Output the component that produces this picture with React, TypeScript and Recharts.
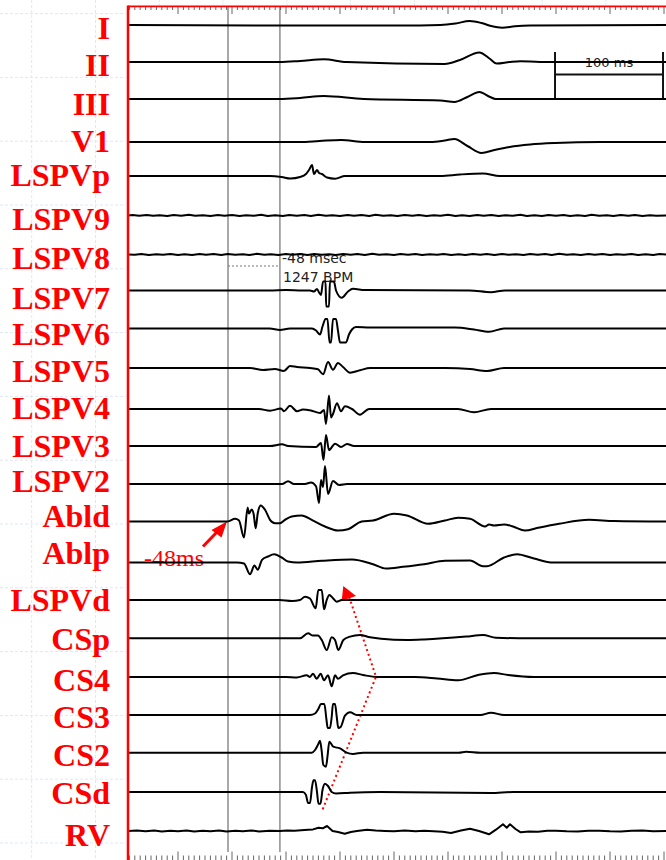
import { LineChart, Line, XAxis, YAxis, ReferenceLine, Customized } from 'recharts';

// channel names, top to bottom
const CHANNELS = [
  'I', 'II', 'III', 'V1', 'LSPVp', 'LSPV9', 'LSPV8', 'LSPV7', 'LSPV6', 'LSPV5', 'LSPV4',
  'LSPV3', 'LSPV2', 'Abld', 'Ablp', 'LSPVd', 'CSp', 'CS4', 'CS3', 'CS2', 'CSd', 'RV',
];
// noisy channels are drawn with straight segments
const NOISY = ['LSPV9', 'LSPV8', 'RV'];

// row layout (y of each trace baseline / label centre)
const BASELINE_Y = [
  25, 62, 99, 142, 176, 215.5, 254.5, 290.5, 328.5, 368, 409, 446, 484, 521.5, 562.5, 600,
  638.3, 677, 715, 752.7, 792, 831,
];
const LABEL_Y = [
  28, 65.5, 104.7, 141.7, 175.5, 219, 258.5, 298, 334.7, 371.7, 408.3, 446, 481, 516, 553,
  600.7, 639.5, 680, 717, 755.5, 793.3, 835,
];

// traces: [time ms, deflection]
const TRACE_I = [[4, 0], [144, -0.5], [255, -0.5], [293, 0], [307, 1.5], [320, 4], [331, 2], [340, -1], [350, -2.7], [362, -1.2], [376, -0.5], [502, 0]];
const TRACE_II = [[4, 0], [144, 0], [163, 1], [185, 2.7], [206, 0], [297, -2], [311, 2], [329, 9.5], [339, 3], [345, -1.5], [357, 0], [367, 0.8], [385, 0], [502, 0]];
const TRACE_III = [[4, 0], [144, 0], [163, 1], [185, 3], [222, 0], [293, -1.5], [306, -3], [318, 2], [329, 7], [339, 2], [344, 0], [502, 0]];
const TRACE_V1 = [[4, 0], [163, 0], [181, 1], [201, 2], [223, 0], [284, 0], [297, 1.5], [306, 3], [318, -4], [331, -11], [343, -8], [357, -5], [376, -2.5], [399, -1], [441, 0], [502, 0]];
const TRACE_LSPVP = [[4, 0], [135, 0], [146, -1], [154, -2.5], [163, -1], [168.5, 2], [171.3, 6], [174.1, 11], [175.9, 2], [178.7, 6], [180.6, 3], [183.3, 2], [188, -1.5], [195.4, -2.7], [204.6, 0], [293, 0], [311, 1.5], [332.4, 2.5], [348, 0], [502, 0]];
const TRACE_LSPV9 = [[4, 0], [8, 0.4], [14, -0.3], [21, 0.6], [27, -0.2], [33, 0.3], [40, -0.5], [46, 0.4], [53, -0.2], [60, 0.7], [66, -0.3], [73, 0.3], [80, -0.5], [87, 0.4], [93, -0.2], [100, 0.6], [107, -0.4], [113, 0.3], [120, -0.3], [127, 0.7], [133, -0.4], [140, 0.2], [147, -0.5], [153, 0.6], [160, -0.2], [167, 0.4], [173, -0.5], [180, 0.7], [187, -0.3], [193, 0.3], [200, -0.4], [207, 0.6], [213, -0.3], [220, 0.4], [227, -0.5], [233, 0.7], [240, -0.2], [247, 0.3], [253, -0.5], [260, 0.5], [267, -0.3], [273, 0.6], [280, -0.4], [287, 0.3], [293, -0.3], [300, 0.7], [307, -0.4], [313, 0.3], [320, -0.5], [327, 0.5], [333, -0.2], [340, 0.6], [347, -0.4], [353, 0.3], [360, -0.3], [367, 0.7], [373, -0.4], [380, 0.3], [387, -0.5], [393, 0.5], [400, -0.2], [407, 0.6], [413, -0.4], [420, 0.3], [427, -0.4], [433, 0.7], [440, -0.3], [447, 0.3], [453, -0.5], [460, 0.5], [467, -0.2], [473, 0.6], [480, -0.4], [487, 0.3], [493, -0.3], [502, 0]];
const TRACE_LSPV8 = [[4, 0], [10, -0.3], [16, 0.5], [23, -0.4], [30, 0.3], [36, -0.2], [43, 0.6], [50, -0.4], [56, 0.3], [63, -0.5], [70, 0.5], [76, -0.2], [83, 0.4], [90, -0.5], [96, 0.6], [103, -0.3], [110, 0.3], [116, -0.4], [123, 0.7], [130, -0.3], [136, 0.2], [143, -0.5], [150, 0.5], [156, -0.3], [163, 0.4], [170, -0.4], [176, 0.6], [183, -0.2], [190, 0.3], [196, -0.5], [203, 0.5], [210, -0.3], [216, 0.4], [223, -0.4], [230, 0.7], [236, -0.3], [243, 0.3], [250, -0.5], [256, 0.4], [263, -0.2], [270, 0.6], [276, -0.4], [283, 0.3], [290, -0.3], [296, 0.6], [303, -0.4], [310, 0.3], [316, -0.5], [323, 0.5], [330, -0.2], [336, 0.4], [343, -0.4], [350, 0.6], [356, -0.3], [363, 0.3], [370, -0.5], [376, 0.5], [383, -0.2], [390, 0.4], [396, -0.4], [403, 0.7], [410, -0.3], [416, 0.3], [423, -0.5], [430, 0.4], [436, -0.2], [443, 0.6], [450, -0.4], [456, 0.3], [463, -0.3], [470, 0.6], [476, -0.4], [483, 0.3], [490, -0.5], [496, 0.4], [502, 0]];
const TRACE_LSPV7 = [[4, 0], [135, 0], [150, 0.5], [165, 0], [172.2, 0], [175.9, -1], [178.7, 1.5], [180.6, -2], [182.4, -4.5], [184.3, 9], [186.6, 9], [187.2, -16], [189.8, -16], [190.7, 9], [194.4, 9], [196.3, 0], [201.6, -7.3], [207.4, -1], [212, 1.7], [223, 0.5], [320, 0], [339.8, -1.7], [352.8, 0], [502, 0]];
const TRACE_LSPV6 = [[4, 0], [135, 0], [144.4, -1.5], [153.7, 0], [170, 0], [174.1, 0], [177.8, -2], [181.5, -6], [183.8, 2], [186.6, 9.5], [188.4, 9.5], [190.3, -14], [191.7, -14], [193.5, 9.5], [196.3, 9.5], [198.1, -2], [200, -14], [205.6, -14], [208.3, -6], [211.1, -1], [214.8, 1.5], [227.8, 1], [306.5, 1], [324, -1], [338, -3.3], [351.9, 0], [502, 0]];
const TRACE_LSPV5 = [[4, 0], [116.7, 0], [128.7, -2], [139.8, -1], [148.1, -3], [153.7, 2], [160.2, 1], [172.2, 0], [179.6, -1.3], [184.3, -6.3], [188.9, 6], [193.5, -1.7], [198.1, 5], [202.8, 1], [209.3, -4.7], [218.5, -2.3], [227.8, 0], [297.2, 0], [320.4, -1], [336.1, -3], [351.9, 0], [502, 0]];
const TRACE_LSPV4 = [[4, 0], [125, 0], [135.2, -1.7], [145.4, 0.5], [148.1, -2.3], [153.7, 3.3], [160.2, -2.3], [165.7, -0.5], [173.1, -1.5], [181.5, -4], [185.2, -1], [187, -15], [189.8, 13.5], [191.7, -8.5], [193.5, -5], [197.2, 5.7], [200.9, -2.3], [204.6, 2.7], [211.1, 0], [218.5, -5.7], [226.9, 0], [309.3, 0], [324.1, -3.3], [339.8, 0], [502, 0]];
const TRACE_LSPV3 = [[4, 0], [135, 0], [146.3, 1.7], [151.9, 0], [177.8, -1], [182.4, 3], [184.7, -14], [187, 11], [189.8, -4], [195.4, 2.3], [200.9, -1], [206.5, 2], [213, 0], [502, 0]];
const TRACE_LSPV2 = [[4, 0], [146.3, 0], [151.9, 2.7], [157.4, 0], [167.6, 0], [173.1, 1.5], [177.8, -2.3], [180.6, -19], [182.4, 4], [184.3, -3], [186.1, 18], [188.9, -10], [193.5, 3], [199.1, -1], [206.5, 0], [502, 0]];
const TRACE_ABLD = [[4, 0], [96, 0], [102.8, 2.7], [106.5, 1], [111.1, -16], [114.5, 14], [115.7, 8], [118.2, 12], [120.1, 7], [121.9, -6.7], [123.8, 8], [126.6, 16], [130.6, 11.7], [135.2, 1.7], [139.8, -1.7], [144.4, -1.7], [149.1, 1.7], [155.3, 5], [164.5, 6], [173.8, 1.7], [186.1, -5], [198.1, -9], [207.4, -7.7], [220.1, 0], [230.6, 1], [250, 7.7], [262, 6], [281.5, -2.3], [297.2, 1], [309.3, 3.7], [320.4, 2.7], [334.3, -5], [338, -3], [342.6, -4], [351.9, -3], [360.2, -5], [371.3, -9], [383.3, -6.3], [402.8, -2.3], [430.6, 1.7], [453.7, 0.5], [502, 0]];
const TRACE_ABLP = [[4, 0], [104.6, 0], [111.1, -1], [116.7, -11.7], [120.8, -3], [123.8, -7.3], [127.8, 2.7], [133.3, 6], [138.9, 8.3], [146, 5], [151.9, 1], [160.2, 0], [183.3, 1.7], [211.1, 3], [230.6, -1.7], [242.6, -6], [258.3, -4.3], [277.8, -1.7], [297.2, 1.7], [320.4, 2], [332.4, -3.7], [336.1, -3.7], [351.9, 5], [363.9, 8.3], [379.6, 4], [395.4, 0], [502, 0]];
const TRACE_LSPVD = [[4, 0], [144, 0], [155.6, -1], [163, 0], [167.6, 3.3], [172.2, 1.5], [177.5, -8.3], [179.9, 10], [183.1, 10], [185.2, -9.3], [187.7, 0], [190.1, 5], [193.5, 1.7], [196.9, -1.7], [201.6, 0], [502, 0]];
const TRACE_CSP = [[4, 0], [144, 0], [163, 0], [170.4, 5], [175, 2.7], [179.6, 2.7], [183.1, -1.7], [187.7, -11.7], [192.3, 1], [195.4, -1.7], [198.4, -11.7], [203.1, -1.7], [209.3, 1.7], [218.5, 3.3], [227.8, 1], [238, -0.5], [262, -1.7], [277.8, -1.2], [316.7, 1.7], [332.4, 3.3], [344.4, 0.5], [375.9, 0], [502, 0]];
const TRACE_CS4 = [[4, 0], [150, 0], [160, -0.5], [169.2, 1.7], [172.2, 0], [175, 3.3], [178.4, -1.7], [182.1, 3.3], [185.2, -3.3], [188.9, 1.7], [192.3, -9.3], [195.4, 1.7], [198.1, -1.7], [202.8, 1.7], [212, 4], [221.3, 2], [234.3, 0], [269.4, 0], [290, -1.5], [309.3, -3.3], [328.7, 2.3], [342.6, 4], [355.6, 2], [379.6, 0], [502, 0]];
const TRACE_CS3 = [[4, 0], [165, 0], [172.2, 0], [176.9, 1.5], [179.9, 6], [182.4, 11], [185.5, 11], [187.5, -5], [188.6, -13], [190.7, -13], [192.3, -2], [193.5, 11], [195.4, 11], [197, -2], [198.4, -13], [200.6, -12], [204.6, -0.7], [209.3, 2.7], [215.5, 0], [330, 0], [339.8, 2.3], [351.9, 0], [502, 0]];
const TRACE_CS2 = [[4, 0], [165, 0], [173.8, 0], [176.9, 2.7], [179.6, 8], [181.5, 12], [183, 2], [184.5, -12], [187, -14], [188.5, -3], [190.1, 11], [193.8, 6], [200, 4.3], [206.2, 0], [212, -1.3], [221.3, 0], [310, 0], [316.7, 1], [330, 0], [502, 0]];
const TRACE_CSD = [[4, 0], [160, 0], [165.7, 0], [168.5, -3], [170.4, -11], [172.2, -11], [174.1, 5], [175.5, 11.7], [176.9, 11.7], [178.7, 0], [180.1, -11.7], [181.9, -11.7], [183.8, 2], [186.1, 8.3], [188.9, 6], [192.3, 0], [196.3, -1.5], [209.3, -0.7], [237, 0], [339.8, -1], [360, 0], [502, 0]];
const TRACE_RV = [[4, 0], [12, 0.4], [20, -0.2], [28, 0.5], [35, -0.4], [43, 0.2], [50, -0.3], [58, 0.5], [65, -0.5], [73, 0.3], [80, -0.2], [88, 0.5], [95, -0.4], [103, 0.2], [110, -0.3], [118, 0.5], [125, -0.4], [135, 0.3], [144.4, 0], [151, 0.5], [158, 0.2], [164, 0.8], [170.4, 1.3], [175, 1.6], [180.2, 3.3], [184, 2.7], [188, 5], [193.1, 0], [198.1, -1], [204.4, -2.7], [210, -1], [215.7, 0], [225, 1.3], [233, 0.5], [241.7, 0], [250, -0.3], [260, 0.4], [270, -0.2], [278, 0.3], [286.7, -0.3], [295, -0.8], [302.8, -2], [312, 0.5], [320.4, 2.3], [328.7, 0], [333, -1.5], [338, -3.3], [344.4, 1.3], [350.9, 6.7], [354.4, 3.3], [357.4, 6.7], [362.5, 2], [367.3, -1.3], [375, -0.5], [383.3, -0.7], [392, 0.2], [400, 0.3], [410, -0.3], [420, -0.4], [430, 0.3], [440, 0.3], [450, -0.2], [460, -0.4], [470, 0.3], [480, 0.4], [490, -0.3], [502, 0]];

const TRACES = [
  TRACE_I, TRACE_II, TRACE_III, TRACE_V1, TRACE_LSPVP, TRACE_LSPV9, TRACE_LSPV8, TRACE_LSPV7,
  TRACE_LSPV6, TRACE_LSPV5, TRACE_LSPV4, TRACE_LSPV3, TRACE_LSPV2, TRACE_ABLD, TRACE_ABLP,
  TRACE_LSPVD, TRACE_CSP, TRACE_CS4, TRACE_CS3, TRACE_CS2, TRACE_CSD, TRACE_RV,
];

// markers (ms)
const CURSORS_MS = [96.3, 144.4];
const SCALE_BAR_MS = [399.1, 499.1];
const X_MAX_MS = 501.85;
const PLOT_LEFT_MS = 3.7;
const RULER_MS = Array.from({ length: 100 }, (_, k) => 5 * (k + 1));

const RED = '#ff0000';

const series = TRACES.map((pts, i) => pts.map(([t, a]) => ({ t, v: BASELINE_Y[i] - a })));

const ChannelLabel = (props: any) => {
  const i = LABEL_Y.indexOf(props.payload.value);
  return (
    <text
      x={110}
      y={props.y + 10.6}
      textAnchor="end"
      fontFamily="'Liberation Serif', 'Times New Roman', serif"
      fontWeight="bold"
      fontSize={32}
      fill={RED}
    >
      {CHANNELS[i]}
    </text>
  );
};

// faint slide grid, only visible outside the white plot
const SlideGrid = () => {
  const rows = Array.from({ length: 14 }, (_, k) => 13.6 + 63.8 * k);
  const cols = Array.from({ length: 8 }, (_, k) => 159.3 + 63.8 * k);
  const c = '#dfe7f6';
  return (
    <g>
      {[31.7, 95.5].map((x) => (
        <line key={'v' + x} x1={x} x2={x} y1={0} y2={860} stroke={c} strokeDasharray="3 2" />
      ))}
      {rows.map((y) => (
        <line key={'h' + y} x1={0} x2={126} y1={y} y2={y} stroke={c} strokeDasharray="3 2" />
      ))}
      {cols.map((x) => (
        <line key={'t' + x} x1={x} x2={x} y1={0} y2={5} stroke={c} strokeDasharray="2 1" />
      ))}
    </g>
  );
};

const Annotations = () => (
  <g>
    <text x={282} y={263} fontFamily="'DejaVu Sans', sans-serif" fontSize={14} fill="#222">-48 msec</text>
    <text x={283} y={282} fontFamily="'DejaVu Sans', sans-serif" fontSize={14} fill="#222">1247 BPM</text>
    <text x={609} y={67} textAnchor="middle" fontFamily="'DejaVu Sans', sans-serif" fontSize={13} fill="#222">100 ms</text>

    {/* arrow to ablation catheter onset */}
    <line x1={203} y1={546.5} x2={217} y2={532} stroke={RED} strokeWidth={3} />
    <polygon points="227,521.5 211.5,530 221.5,537.5" fill={RED} />
    <text x={144} y={566} fontFamily="'Liberation Serif', 'Times New Roman', serif" fontSize={24} fill={RED}>-48ms</text>

    {/* dotted activation sequence */}
    <polyline
      points="322.7,809.3 376,676.7 349.5,598"
      fill="none"
      stroke={RED}
      strokeWidth={2}
      strokeDasharray="2 3"
    />
    <polygon points="343.3,586 341.7,600.7 356,596" fill={RED} />
  </g>
);

export default function App() {
  return (
    <div style={{ position: 'absolute', left: 0, top: 0, width: 666, height: 860, background: '#fff' }}>
      <LineChart width={666} height={860} margin={{ top: 0, right: 0, bottom: 0, left: 0 }}>
        <Customized component={SlideGrid} />
        <XAxis type="number" dataKey="t" domain={[0, X_MAX_MS]} allowDataOverflow hide />
        <YAxis
          type="number"
          domain={[0, 860]}
          reversed
          allowDataOverflow
          width={124}
          ticks={LABEL_Y}
          interval={0}
          axisLine={false}
          tickLine={false}
          tick={ChannelLabel}
        />

        {/* ruler ticks top and bottom */}
        {RULER_MS.map((t) => (
          <ReferenceLine
            key={'rt' + t}
            segment={[{ x: t, y: 7 }, { x: t, y: t % 50 === 0 ? 14 : 10 }]}
            stroke="#666"
            strokeWidth={1}
          />
        ))}
        {RULER_MS.map((t) => (
          <ReferenceLine
            key={'rb' + t}
            segment={[{ x: t, y: t % 50 === 0 ? 851.5 : 855.5 }, { x: t, y: 860 }]}
            stroke="#666"
            strokeWidth={1}
          />
        ))}

        {/* measurement cursors */}
        {CURSORS_MS.map((t) => (
          <ReferenceLine key={'c' + t} segment={[{ x: t, y: 7 }, { x: t, y: 852 }]} stroke="#555" strokeWidth={1} />
        ))}
        <ReferenceLine
          segment={[{ x: CURSORS_MS[0], y: 266 }, { x: CURSORS_MS[1], y: 266 }]}
          stroke="#777"
          strokeDasharray="2 2"
        />

        {/* 100 ms scale bar */}
        {SCALE_BAR_MS.map((t) => (
          <ReferenceLine key={'sb' + t} segment={[{ x: t, y: 52 }, { x: t, y: 98 }]} stroke="#111" strokeWidth={2} />
        ))}
        <ReferenceLine
          segment={[{ x: SCALE_BAR_MS[0], y: 74.5 }, { x: SCALE_BAR_MS[1], y: 74.5 }]}
          stroke="#111"
          strokeWidth={2}
        />

        {series.map((d, i) => (
          <Line
            key={CHANNELS[i]}
            data={d}
            dataKey="v"
            type={NOISY.includes(CHANNELS[i]) ? 'linear' : 'monotone'}
            stroke="#000"
            strokeWidth={2}
            strokeLinejoin="round"
            dot={false}
            isAnimationActive={false}
          />
        ))}

        {/* red frame */}
        <ReferenceLine segment={[{ x: PLOT_LEFT_MS, y: 5.5 }, { x: PLOT_LEFT_MS, y: 860 }]} stroke={RED} strokeWidth={2.5} />
        <ReferenceLine segment={[{ x: PLOT_LEFT_MS, y: 6.3 }, { x: X_MAX_MS, y: 6.3 }]} stroke={RED} strokeWidth={1.8} />

        <Customized component={Annotations} />
      </LineChart>
    </div>
  );
}
